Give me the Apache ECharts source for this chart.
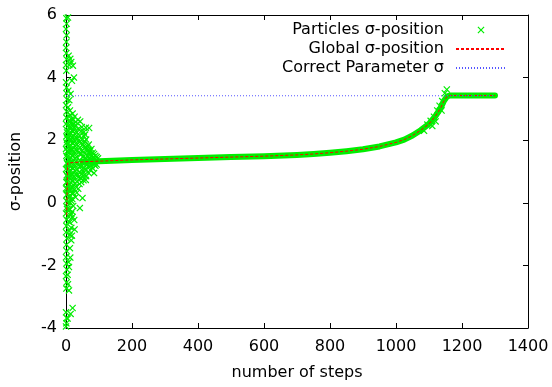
<!DOCTYPE html>
<html>
<head>
<meta charset="utf-8">
<script src="https://cdn.jsdelivr.net/npm/echarts@6/dist/echarts.min.js"></script>
<style>
  html, body { margin: 0; padding: 0; background: #fff; }
  #chart { width: 552px; height: 387px; }
</style>
</head>
<body>
<div id="chart"></div>
<script>
// 轴刻度
const xTicks = [0, 200, 400, 600, 800, 1000, 1200, 1400];
const yTicks = [-4, -2, 0, 2, 4, 6];

// Global sigma-position (mean of the particles)
const globalSteps = [2, 5, 10, 50, 100, 200, 300, 400, 500, 600, 700, 750, 800, 850, 900, 950, 1000, 1025, 1050, 1075, 1100, 1120, 1135, 1145, 1155, 1165, 1300];
const globalValues = [-0.4, 1.27, 1.29, 1.31, 1.33, 1.37, 1.40, 1.43, 1.46, 1.49, 1.53, 1.56, 1.60, 1.65, 1.71, 1.80, 1.93, 2.02, 2.15, 2.32, 2.52, 2.78, 3.02, 3.25, 3.40, 3.43, 3.43];

// Correct parameter sigma
const correctSteps = [0, 1300];
const correctValues = [3.42, 3.42];

// Particles [step, value] — the noisy start, plus a few at the steep part
const particlePoints = [
  // column at the very first steps
  [1,5.9],[2,5.72],[0,5.55],[2,5.35],[1,5.14],[0,4.95],[1,4.78],[2,4.58],[0,4.4],[1,4.22],
  [0,3.85],[2,3.68],[1,3.5],[3,3.3],[0,3.12],[2,2.92],[1,2.72],[0,2.52],[3,2.32],[1,2.12],
  [2,1.92],[0,1.72],[1,1.5],[3,1.28],[0,1.08],[2,0.88],[1,0.66],[0,0.46],[2,0.26],[1,0.06],
  [3,-0.14],[0,-0.34],[2,-0.54],[1,-0.74],[0,-0.94],[3,-1.14],[1,-1.34],[2,-1.54],[0,-1.74],[1,-1.94],
  [3,-2.14],[0,-2.34],[2,-2.54],[1,-2.74],[0,-3.5],[2,-3.68],[1,-3.85],[0,-3.95],
  // upper spread
  [6,5.92],[8,4.7],[13,4.6],[16,4.5],[10,4.4],[21,4.38],[24,4.0],[18,3.9],[7,3.58],[14,3.48],
  [10,3.28],[6,3.05],[12,2.95],[20,2.85],[8,2.76],[26,2.75],[36,2.65],[30,2.58],[43,2.6],[17,2.55],
  [60,2.4],[70,2.39],[54,2.26],[48,2.42],[58,2.18],
  // dense core
  [6,2.45],[6,2.05],[6,1.62],[6,1.22],[6,0.82],[6,0.42],[6,0.02],[6,-0.42],
  [11,2.62],[11,2.24],[11,1.82],[11,1.42],[11,1.02],[11,0.6],[11,0.2],[11,-0.22],[11,-0.62],[11,-1.02],
  [16,2.4],[16,2.02],[16,1.66],[16,1.26],[16,0.86],[16,0.44],[16,0.06],[16,-0.35],[16,-0.8],[16,-1.2],
  [22,2.66],[22,2.28],[22,1.9],[22,1.5],[22,1.1],[22,0.7],[22,0.3],[22,-0.1],
  [29,2.48],[29,2.1],[29,1.72],[29,1.32],[29,0.92],[29,0.52],[29,0.18],
  [37,2.36],[37,1.98],[37,1.6],[37,1.2],[37,0.82],[37,0.45],
  [45,2.28],[45,1.9],[45,1.54],[45,1.16],[45,0.78],
  [53,2.14],[53,1.8],[53,1.48],[53,1.12],[53,0.72],
  [61,2.02],[61,1.7],[61,1.4],[61,1.04],[61,0.85],
  [69,1.86],[69,1.58],[69,1.16],[69,0.95],
  [77,1.72],[77,1.5],[77,1.2],
  [85,1.56],[85,1.24],[85,0.95],
  [93,1.46],[93,1.22],
  // core, second layer
  [3,2.25],[3,1.85],[3,1.45],[3,1.05],[3,0.65],[3,0.25],[3,-0.2],
  [8,2.6],[8,2.2],[8,1.8],[8,1.4],[8,1.0],[8,0.6],[8,0.2],[8,-0.2],[8,-0.6],
  [13,2.8],[13,2.42],[13,2.04],[13,1.64],[13,1.24],[13,0.84],[13,0.42],[13,0.0],[13,-0.4],
  [19,2.5],[19,2.1],[19,1.7],[19,1.3],[19,0.9],[19,0.5],[19,0.12],[19,-0.28],
  [25,2.4],[25,2.0],[25,1.62],[25,1.22],[25,0.84],[25,0.42],
  [33,2.25],[33,1.86],[33,1.46],[33,1.06],[33,0.68],
  [41,2.14],[41,1.76],[41,1.36],[41,0.98],[41,0.6],
  [49,2.02],[49,1.66],[49,1.28],[49,0.92],
  [57,1.96],[57,1.6],[57,1.26],[57,0.9],
  [65,1.8],[65,1.5],[65,1.22],
  [73,1.66],[73,1.38],[73,1.05],
  [81,1.6],[81,1.38],[81,1.1],
  [89,1.5],[89,1.18],
  [97,1.42],
  // core, third layer
  [4,2.05],[4,1.65],[4,1.25],[4,0.85],[4,0.45],
  [9,2.4],[9,2.0],[9,1.6],[9,1.2],[9,0.8],[9,0.4],
  [14,2.6],[14,2.22],[14,1.84],[14,1.44],[14,1.04],[14,0.64],[14,0.22],
  [20,2.3],[20,1.9],[20,1.5],[20,1.1],[20,0.7],[20,0.32],
  [27,2.2],[27,1.82],[27,1.42],[27,1.02],[27,0.62],
  [35,2.05],[35,1.66],[35,1.26],[35,0.88],
  [43,1.96],[43,1.56],[43,1.18],[43,0.8],
  [51,1.86],[51,1.46],[51,1.02],
  [59,1.78],[59,1.44],[59,1.08],
  [67,1.68],[67,1.36],
  [75,1.56],[75,1.28],
  [83,1.46],[83,1.3],
  // lower outliers
  [60,0.73],[46,0.66],[42,-0.17],[50,0.15],[33,0.32],[20,-0.45],[25,-0.55],[12,-1.45],[8,-1.9],[5,-2.3],
  [20,-3.36],[14,-3.55],[5,-3.7],[10,-0.9],[18,-1.05],[13,-1.75],[9,-2.05],[6,-2.6],[9,-2.8],[26,-0.85],
  // steep part
  [1085,2.3],[1095,2.5],[1105,2.62],[1115,2.75],[1125,2.95],[1132,3.1],[1140,3.25],[1148,3.5],[1154,3.62],
  [1120,2.6],[1110,2.45],[1138,2.95]
];

const FONT = "DejaVu Sans";
const GREEN = "#00ee00";
const X_MARK = "path://M0,1.2L1.2,0L5,3.8L8.8,0L10,1.2L6.2,5L10,8.8L8.8,10L5,6.2L1.2,10L0,8.8L3.8,5Z";

let globalData = globalSteps.map((s, i) => [s, globalValues[i]]);
let bandData = globalData.filter(p => p[0] >= 50);
let correctData = correctSteps.map((s, i) => [s, correctValues[i]]);

let axisBase = {
  type: "value",
  axisLine: { show: true, onZero: false, lineStyle: { color: "#000", width: 1 } },
  axisTick: { show: true, inside: true, length: 5, lineStyle: { color: "#000" } },
  splitLine: { show: false }
};

let myChart = echarts.init(document.getElementById("chart"));
myChart.setOption({
  animation: false,
  textStyle: { fontFamily: FONT },
  grid: { left: 65, right: 24, top: 15, bottom: 59 },
  legend: {
    orient: "vertical",
    align: "right",
    right: 45,
    top: 22,
    padding: 0,
    itemWidth: 50,
    itemHeight: 7,
    itemGap: 3,
    textStyle: { fontFamily: FONT, fontSize: 16, color: "#000", lineHeight: 16, padding: [0, 7, 0, 0] },
    data: [
      { name: "Particles σ-position", icon: X_MARK },
      { name: "Global σ-position", itemStyle: { opacity: 0 } },
      { name: "Correct Parameter σ", itemStyle: { opacity: 0 } }
    ]
  },
  xAxis: [
    Object.assign({}, axisBase, {
      position: "bottom",
      min: xTicks[0],
      max: xTicks[xTicks.length - 1],
      interval: 200,
      axisLabel: { fontFamily: FONT, fontSize: 16, color: "#000", margin: 11, formatter: v => String(v) },
      name: "number of steps",
      nameLocation: "middle",
      nameGap: 37,
      nameTextStyle: { fontFamily: FONT, fontSize: 16, color: "#000" }
    }),
    Object.assign({}, axisBase, {
      position: "top",
      min: xTicks[0],
      max: xTicks[xTicks.length - 1],
      interval: 200,
      axisLabel: { show: false }
    })
  ],
  yAxis: [
    Object.assign({}, axisBase, {
      position: "left",
      min: yTicks[0],
      max: yTicks[yTicks.length - 1],
      interval: 2,
      axisLabel: { fontFamily: FONT, fontSize: 16, color: "#000", margin: 9 },
      name: "σ-position",
      nameLocation: "middle",
      nameRotate: 90,
      nameGap: 42,
      nameTextStyle: { fontFamily: FONT, fontSize: 16, color: "#000" }
    }),
    Object.assign({}, axisBase, {
      position: "right",
      min: yTicks[0],
      max: yTicks[yTicks.length - 1],
      interval: 2,
      axisLabel: { show: false }
    })
  ],
  series: [
    {
      // 粒子带
      name: "band",
      type: "line",
      data: bandData,
      symbol: "none",
      silent: true,
      z: 1,
      lineStyle: { color: GREEN, width: 6, cap: "round", join: "round" }
    },
    {
      name: "Particles σ-position",
      type: "scatter",
      data: particlePoints,
      symbol: X_MARK,
      symbolSize: 7,
      z: 2,
      itemStyle: { color: GREEN, opacity: 1 }
    },
    {
      name: "Global σ-position",
      type: "line",
      data: globalData,
      symbol: "none",
      z: 3,
      lineStyle: { color: "#ff0000", width: 1, type: [3, 2] }
    },
    {
      name: "Correct Parameter σ",
      type: "line",
      data: correctData,
      symbol: "none",
      z: 4,
      lineStyle: { color: "#5555ff", width: 1, type: [1, 2] }
    }
  ]
});
</script>
</body>
</html>
